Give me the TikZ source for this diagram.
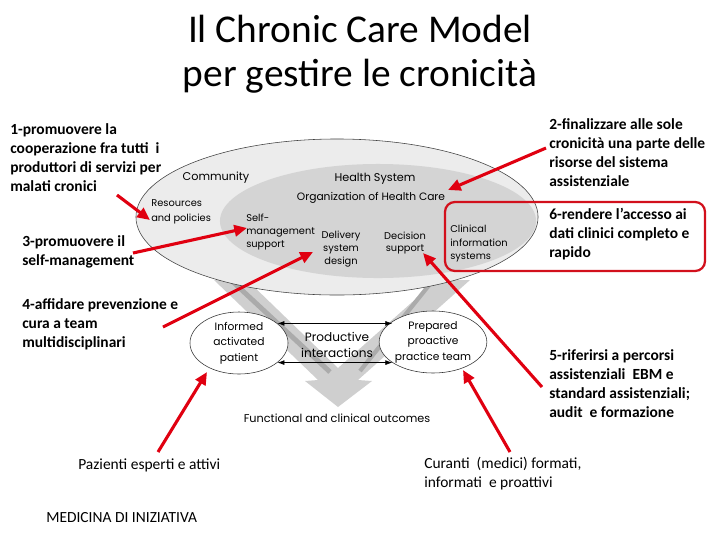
\documentclass[tikz,border=0pt]{standalone}
\usepackage{fontspec}
\setmainfont{Carlito}
\newfontfamily\ccmfont{Poppins}
\usetikzlibrary{arrows.meta,positioning,shapes.geometric}
\definecolor{ccmred}{HTML}{E00010}
\definecolor{boxred}{HTML}{D2101C}
\definecolor{outerg}{HTML}{ECECEC}
\definecolor{innerg}{HTML}{D4D4D4}
\definecolor{armg}{HTML}{CFCFCF}
\definecolor{armdk}{HTML}{ABABAB}

\begin{document}
\begin{tikzpicture}[x=0.025cm,y=-0.025cm,
    lbl/.style={font=\fontsize{11}{13.5}\selectfont\bfseries,align=left,anchor=north west,inner sep=0pt},
    plain/.style={font=\fontsize{11}{13.5}\selectfont,align=left,inner sep=0pt},
    ccm/.style={font=\ccmfont\fontsize{7}{9.2}\selectfont,inner sep=0pt},
    ccmbig/.style={font=\ccmfont\fontsize{8}{11}\selectfont,inner sep=0pt},
    disc/.style={ellipse,draw=black!75,line width=0.4pt,inner sep=0pt},
    oval/.style={ellipse,draw=black!80,fill=white,line width=0.4pt,align=center,inner sep=0pt,
      minimum width=2.45cm,minimum height=1.55cm,font=\ccmfont\fontsize{7.6}{11}\selectfont},
    redarr/.style={-{Triangle[length=9pt,width=8pt]},draw=ccmred,line width=2.2pt},
    darr/.style={{Latex[length=5pt,width=3.5pt]}-{Latex[length=5pt,width=3.5pt]},line width=0.5pt},
]
\useasboundingbox (0,0) rectangle (720,540);

% Title
\node[font=\fontsize{28}{31}\selectfont,align=center,anchor=north,inner sep=0pt] (title) at (360,15)
  {Il Chronic Care Model\\per gestire le cronicit\`a};

% V arrow to outcomes (behind the discs)
\fill[armg] (214,280) -- (247,280) -- (338,368) -- (437,280) -- (470,280) -- (358,380)
  -- (372,381) -- (338,407) -- (305,381) -- (318,380) -- cycle;
\draw[armdk,line width=3.5pt] (231,280) -- (330,372);
\draw[armdk,line width=3pt] (430,284) -- (360,371);

% Community / Health System discs
\node[disc,fill=outerg,minimum width=10.05cm,minimum height=3.9cm] (comm) at (337,217) {};
\node[disc,draw=none,fill=innerg,minimum width=7.9cm,minimum height=2.85cm] (hs) at (378,221) {};

\node[ccmbig] (commt) at (216,178) {Community};
\node[ccmbig] (hst) at (375,179) {Health System};
\node[ccmbig,font=\ccmfont\fontsize{7.6}{11}\selectfont] (org) at (371,198) {Organization of Health Care};
\node[ccm,align=left,anchor=west,font=\ccmfont\fontsize{7}{10.7}\selectfont] (res) at (151,212) {Resources\\and policies};
\node[ccm,align=left,anchor=west] (sms) at (246,232) {Self-\\management\\support};
\node[ccm,align=center] (dsd) at (341,249) {Delivery\\system\\design};
\node[ccm,align=center] (dec) at (405,243) {Decision\\support};
\node[ccm,align=left,anchor=west,font=\ccmfont\fontsize{7}{9.6}\selectfont] (cis) at (450,244) {Clinical\\information\\systems};

% Patient and team
\node[oval] (pat) at (239,343) {Informed\\activated\\patient};
\node[oval,minimum width=2.4cm] (team) at (433,342) {Prepared\\proactive\\practice team};
\node[ccm,align=center,font=\ccmfont\fontsize{8.6}{11.4}\selectfont] (prod) at (337,345) {Productive\\interactions};
\node[ccmbig] (out) at (337,418) {Functional and clinical outcomes};
\draw[darr] (pat.27) -- (pat.27 -| team.153);
\draw[darr] (pat.-27) -- (pat.-27 -| team.-153);

% Labels
\node[lbl] (l1) at (10,123) {1-promuovere la\\cooperazione fra tutti~ i\\produttori di servizi per\\malati cronici};
\node[lbl] (l2) at (549,118) {2-finalizzare alle sole\\cronicit\`a una parte delle\\risorse del sistema\\assistenziale};
\node[lbl] (l3) at (22,235) {3-promuovere il\\self-management};
\node[lbl] (l4) at (22,298) {4-affidare prevenzione e\\cura a team\\multidisciplinari};
\node[lbl] (l5) at (549,349) {5-riferirsi a percorsi\\assistenziali~ EBM e\\standard assistenziali;\\audit~ e formazione};
\node[lbl] (l6) at (549,208) {6-rendere l’accesso ai\\dati clinici completo e\\rapido};
\node[plain,anchor=west] (paz) at (78,465) {Pazienti esperti e attivi};
\node[plain,anchor=north west] (cur) at (424,457) {Curanti~ (medici) formati,\\informati~ e proattivi};
\node[plain,anchor=west] (med) at (46,518) {MEDICINA DI INIZIATIVA};

% Frame round item 6
\draw[boxred,line width=1.6pt,rounded corners=7pt] (445,202) rectangle (705,271);

% Red arrows
\coordinate (t1) at (117,195); \coordinate (h1) at (150,220);
\coordinate (t2) at (546,148); \coordinate (h2) at (448,190);
\coordinate (t3) at (133,253); \coordinate (h3) at (247,228);
\coordinate (t4) at (163,327); \coordinate (h4) at (313,252);
\coordinate (t5) at (542,387); \coordinate (h5) at (423,253);
\coordinate (t6) at (510,452); \coordinate (h6) at (463,370);
\coordinate (t7) at (158,452); \coordinate (h7) at (207,372);
\draw[redarr] (t1) -- (h1);
\draw[redarr] (t2) -- (h2);
\draw[redarr] (t3) -- (h3);
\draw[redarr] (t4) -- (h4);
\draw[redarr] (t5) -- (h5);
\draw[redarr] (t6) -- (h6);
\draw[redarr] (t7) -- (h7);
\end{tikzpicture}
\end{document}
